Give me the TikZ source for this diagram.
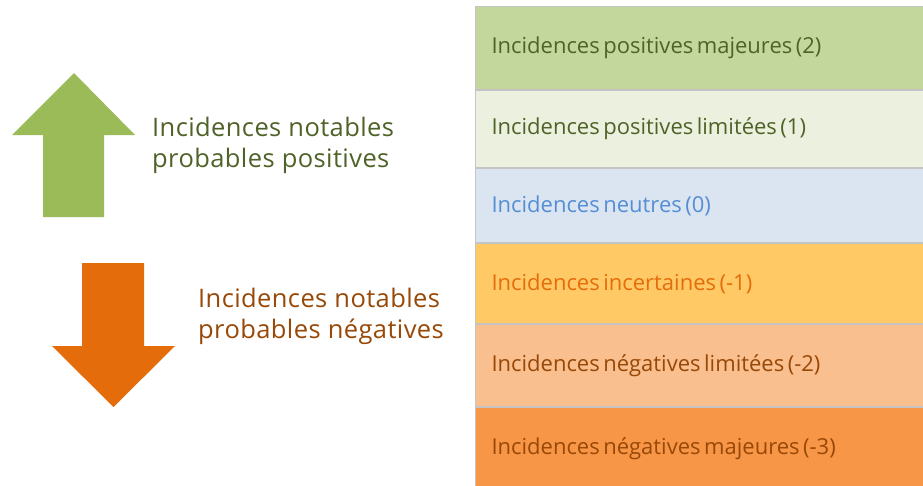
\documentclass[tikz,border=0pt]{standalone}
\usepackage{fontspec}
\setmainfont{Open Sans}
\newfontfamily\rowfont{Open Sans}
\newfontfamily\sidefont[LetterSpace=1.6]{Open Sans}
\definecolor{upgreen}{HTML}{9BBB59}
\definecolor{downorange}{HTML}{E46C0A}
\definecolor{darkgreen}{HTML}{4F6228}
\definecolor{darkbrown}{HTML}{984807}
\definecolor{neutblue}{HTML}{558ED5}
\definecolor{edgegray}{HTML}{C4C4C4}
\definecolor{majpos}{HTML}{C3D69B}
\definecolor{limpos}{HTML}{EBF1DE}
\definecolor{neutre}{HTML}{DBE5F1}
\definecolor{incert}{HTML}{FFCA66}
\definecolor{limneg}{HTML}{F9BF8F}
\definecolor{majneg}{HTML}{F79646}
\begin{document}
\begin{tikzpicture}[x=1pt,y=-1pt,
  level/.style = {anchor = north west, draw = edgegray, line width = 1,
    inner xsep = 16, inner ysep = 0, text width = 416, align = left,
    font = \rowfont\fontsize{22}{26}\selectfont,
    execute at begin node = {\spaceskip 3.5pt\relax}},
  side/.style = {anchor = base west, align = left, inner sep = 0,
    font = \sidefont\fontsize{25.5}{31}\selectfont}]
\useasboundingbox (0,0) rectangle (923,485);
% echelle des incidences
\node[level, fill = majpos, text = darkgreen, minimum height = 83] (row1) at (475,6) {Incidences positives majeures (2)};
\node[level, fill = limpos, text = darkgreen, minimum height = 77] (row2) at (row1.south west) {Incidences positives limitées (1)};
\node[level, fill = neutre, text = neutblue, minimum height = 74] (row3) at (row2.south west) {Incidences neutres (0)};
\node[level, fill = incert, text = downorange, minimum height = 80] (row4) at (row3.south west) {Incidences incertaines (-1)};
\node[level, fill = limneg, text = darkbrown, minimum height = 82] (row5) at (row4.south west) {Incidences négatives limitées (-2)};
\node[level, fill = majneg, text = darkbrown, minimum height = 83] (row6) at (row5.south west) {Incidences négatives majeures (-3)};
% fleches
\fill[upgreen] (43,217) -- (43,135) -- (12,135) -- (74,73) -- (135,135) -- (104,135) -- (104,217) -- cycle;
\fill[downorange] (82,263) -- (144,263) -- (144,346) -- (175,346) -- (113.5,407) -- (52,346) -- (82,346) -- cycle;
\node[side, text = darkgreen] (postxt) at (152,167) {Incidences notables\\probables positives};
\node[side, text = darkbrown] (negtxt) at (198,338) {Incidences notables\\probables négatives};
\end{tikzpicture}
\end{document}
